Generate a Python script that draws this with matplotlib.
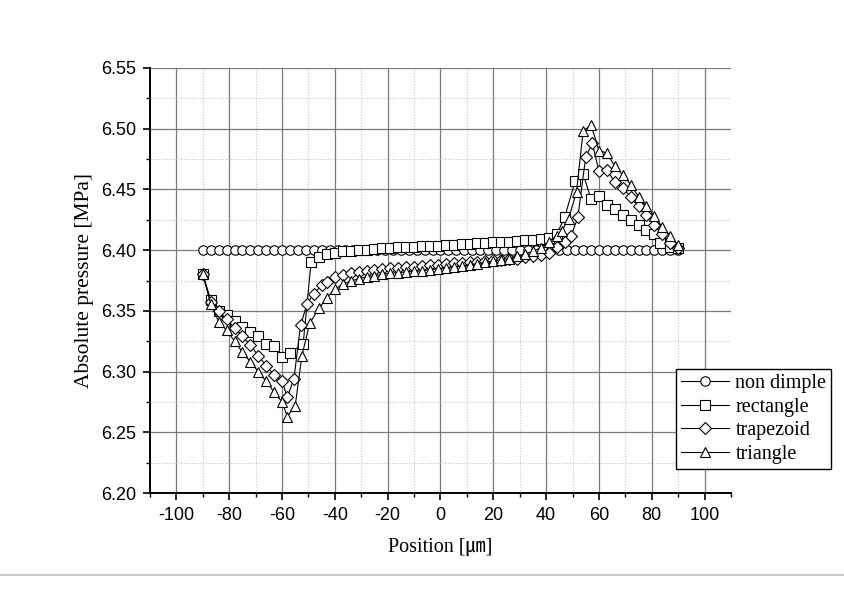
import matplotlib
matplotlib.use("Agg")
import matplotlib.pyplot as plt
from matplotlib.ticker import MultipleLocator, FormatStrFormatter
from matplotlib.lines import Line2D

plt.rcParams["axes.unicode_minus"] = False

# ---------------- data ----------------
x_non = [-90, -87, -84, -81, -78, -75, -72, -69, -66, -63, -60, -57, -54, -51, -48, -45,
         -42, -39, -36, -33, -30, -27, -24, -21, -18, -15, -12, -9, -6, -3, 0, 3, 6, 9,
         12, 15, 18, 21, 24, 27, 30, 33, 36, 39, 42, 45, 48, 51, 54, 57, 60, 63, 66, 69,
         72, 75, 78, 81, 84, 87, 90]
y_non = [6.400, 6.400, 6.400, 6.400, 6.400, 6.400, 6.400, 6.400, 6.400, 6.400, 6.400,
         6.400, 6.400, 6.400, 6.400, 6.400, 6.400, 6.400, 6.400, 6.400, 6.400, 6.400,
         6.400, 6.400, 6.400, 6.400, 6.400, 6.400, 6.400, 6.400, 6.400, 6.400, 6.400,
         6.400, 6.400, 6.400, 6.400, 6.400, 6.400, 6.400, 6.400, 6.400, 6.400, 6.400,
         6.400, 6.400, 6.400, 6.400, 6.400, 6.400, 6.400, 6.400, 6.400, 6.400, 6.400,
         6.400, 6.400, 6.400, 6.400, 6.400, 6.400]

x_rect = [-90, -87, -84, -81, -78, -75, -72, -69, -66, -63, -60, -57, -52, -49, -46, -43,
          -40, -37, -34, -31, -28, -25, -22, -19, -16, -13, -10, -7, -4, -1, 2, 5, 8, 11,
          14, 17, 20, 23, 26, 29, 32, 35, 38, 41, 44, 47, 51, 54, 57, 60, 63, 66, 69, 72,
          75, 78, 81, 83, 87, 90]
y_rect = [6.380, 6.359, 6.350, 6.347, 6.342, 6.337, 6.333, 6.329, 6.323, 6.321, 6.312,
          6.315, 6.323, 6.390, 6.394, 6.3965, 6.398, 6.399, 6.3995, 6.400, 6.4005, 6.401,
          6.4015, 6.402, 6.4022, 6.4025, 6.403, 6.4032, 6.4035, 6.4037, 6.404, 6.4045,
          6.405, 6.4052, 6.4055, 6.406, 6.4063, 6.4067, 6.407, 6.4075, 6.408, 6.4085,
          6.409, 6.410, 6.413, 6.427, 6.457, 6.463, 6.442, 6.445, 6.437, 6.434, 6.429,
          6.425, 6.421, 6.417, 6.413, 6.406, 6.403, 6.402]

x_trap = [-90, -87, -84, -81, -78, -75, -72, -69, -66, -63, -60, -58, -55.5, -53, -50.5,
          -48, -45, -43, -40, -37, -34, -31, -28, -25, -22, -19, -16, -13, -10, -7, -4,
          -1, 2, 5, 8, 11, 14, 17, 20, 23, 26, 29, 32, 35, 38, 41, 44, 47, 49.5, 52, 55,
          57.5, 60, 63, 66, 69, 72, 75, 78, 81, 84, 87, 90]
y_trap = [6.380, 6.357, 6.350, 6.343, 6.336, 6.329, 6.322, 6.313, 6.305, 6.297, 6.292,
          6.279, 6.294, 6.338, 6.356, 6.364, 6.371, 6.374, 6.378, 6.3795, 6.381, 6.382,
          6.383, 6.384, 6.3845, 6.385, 6.3855, 6.386, 6.3865, 6.387, 6.3875, 6.388, 6.389,
          6.3893, 6.3897, 6.390, 6.3905, 6.391, 6.3915, 6.392, 6.3925, 6.393, 6.394, 6.395,
          6.396, 6.398, 6.403, 6.407, 6.412, 6.427, 6.477, 6.488, 6.465, 6.466, 6.456,
          6.451, 6.444, 6.436, 6.429, 6.421, 6.413, 6.406, 6.402]

x_tri = [-90, -87, -84, -81, -78, -75, -72, -69, -66, -63, -60, -58, -55, -52.5, -49.5,
         -46, -43, -40, -37, -34, -31, -28, -25, -22, -19, -16, -13, -10, -7, -4, -1, 2,
         5, 8, 11, 14, 17, 20, 23, 26, 29, 32, 35, 38, 41, 44, 46, 48.5, 51.5, 54, 57, 60,
         63, 66, 69, 72, 75, 78, 81, 84, 87, 90]
y_tri = [6.380, 6.356, 6.341, 6.334, 6.325, 6.316, 6.308, 6.300, 6.292, 6.283, 6.275,
         6.263, 6.272, 6.313, 6.340, 6.352, 6.361, 6.368, 6.372, 6.3745, 6.3765, 6.378,
         6.379, 6.380, 6.381, 6.3815, 6.382, 6.3825, 6.383, 6.384, 6.3845, 6.385, 6.386,
         6.387, 6.388, 6.389, 6.390, 6.391, 6.392, 6.393, 6.395, 6.397, 6.399, 6.402,
         6.407, 6.412, 6.416, 6.426, 6.448, 6.498, 6.503, 6.482, 6.480, 6.469, 6.462,
         6.454, 6.444, 6.436, 6.428, 6.419, 6.412, 6.404]

series_labels = ["non dimple", "rectangle", "trapezoid", "triangle"]
xlabel = "Position [\u339b]"
ylabel = "Absolute pressure [MPa]"

# ---------------- figure ----------------
fig = plt.figure(figsize=(8.45, 5.89), dpi=100)
ax = fig.add_axes([150 / 845, 1 - 493 / 589, (731 - 150) / 845, (493 - 68) / 589])

serif = ["Liberation Serif", "Noto Sans CJK KR", "DejaVu Serif"]
sans = ["Liberation Sans", "DejaVu Sans"]

common = dict(color="black", lw=0.8, markerfacecolor="white", markeredgecolor="black",
              markeredgewidth=0.8)
ax.plot(x_non, y_non, marker="o", ms=6.8, label=series_labels[0], **common)
ax.plot(x_rect, y_rect, marker="s", ms=6.5, label=series_labels[1], **common)
ax.plot(x_trap, y_trap, marker="D", ms=6.0, label=series_labels[2], **common)
ax.plot(x_tri, y_tri, marker="^", ms=7.5, label=series_labels[3], **common)

ax.set_xlim(-110, 110)
ax.set_ylim(6.20, 6.55)
ax.xaxis.set_major_locator(MultipleLocator(20))
ax.xaxis.set_minor_locator(MultipleLocator(10))
ax.yaxis.set_major_locator(MultipleLocator(0.05))
ax.yaxis.set_minor_locator(MultipleLocator(0.025))
ax.yaxis.set_major_formatter(FormatStrFormatter("%.2f"))

ax.grid(which="major", color="#7a7a7a", lw=0.9, ls="-")
ax.grid(which="minor", color="#c4c4c4", lw=0.8, ls=(0, (1, 1.5)))
ax.set_axisbelow(True)

for s in ["top", "right"]:
    ax.spines[s].set_visible(False)
for s in ["left", "bottom"]:
    ax.spines[s].set_linewidth(1.4)
    ax.spines[s].set_color("black")

ax.tick_params(which="major", direction="out", length=5, width=1.2, colors="black",
               labelsize=13, pad=5)
ax.tick_params(which="minor", direction="out", length=3, width=1.0, colors="black")
for lab in ax.get_xticklabels() + ax.get_yticklabels():
    lab.set_family(sans)

ax.set_xlabel(xlabel, family=serif, fontsize=14.5, labelpad=10)
ax.set_ylabel(ylabel, family=serif, fontsize=15.5, labelpad=5)

leg = ax.legend(loc="upper left", bbox_to_anchor=(676 / 845, 1 - 369 / 589),
                bbox_transform=fig.transFigure, prop={"family": serif, "size": 14.5},
                fancybox=False, framealpha=1, edgecolor="black", handlelength=2.4,
                handletextpad=0.3, borderpad=0.25, labelspacing=0.22, borderaxespad=0)
leg.get_frame().set_linewidth(1.0)

fig.add_artist(Line2D([0, 1], [1 - 575 / 589, 1 - 575 / 589], transform=fig.transFigure,
                      color="#c8c8c8", lw=1.5))

fig.savefig("out.png", dpi=100)
